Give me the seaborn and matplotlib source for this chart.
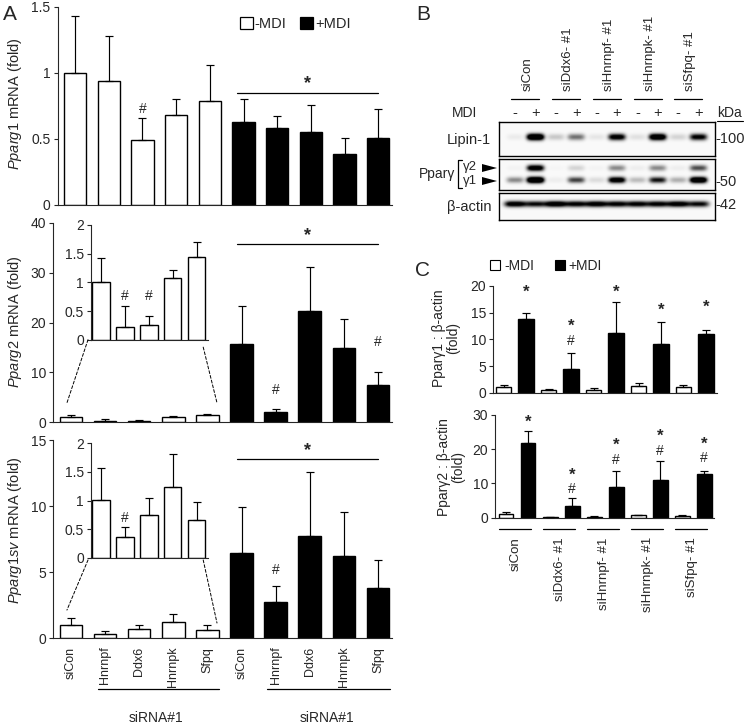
import numpy as np
import pandas as pd
import matplotlib
matplotlib.use("Agg")
import matplotlib.pyplot as plt
import seaborn as sns
from matplotlib.patches import Patch, ConnectionPatch, Polygon
from matplotlib.lines import Line2D
from matplotlib.ticker import FuncFormatter

# ---------------- data ----------------
genes_A = ["siCon", "Hnrnpf", "Ddx6", "Hnrnpk", "Sfpq"]

pparg1_minus = [1.00, 0.94, 0.49, 0.68, 0.79]
pparg1_minus_err = [0.43, 0.34, 0.17, 0.125, 0.27]
pparg1_plus = [0.63, 0.585, 0.555, 0.39, 0.505]
pparg1_plus_err = [0.17, 0.09, 0.205, 0.12, 0.22]

pparg2_minus = [1.00, 0.23, 0.25, 1.08, 1.44]
pparg2_minus_err = [0.42, 0.35, 0.17, 0.13, 0.27]
pparg2_plus = [15.8, 2.1, 22.4, 14.9, 7.4]
pparg2_plus_err = [7.5, 0.6, 8.8, 5.8, 2.7]

pparg1sv_minus = [1.01, 0.36, 0.74, 1.24, 0.66]
pparg1sv_minus_err = [0.56, 0.18, 0.30, 0.58, 0.31]
pparg1sv_plus = [6.43, 2.78, 7.77, 6.23, 3.84]
pparg1sv_plus_err = [3.55, 1.19, 4.81, 3.31, 2.11]

genes_C = ["siCon", "siDdx6- #1", "siHnrnpf- #1", "siHnrnpk- #1", "siSfpq- #1"]
g1_minus = [1.0, 0.5, 0.5, 1.3, 1.0]
g1_minus_err = [0.4, 0.25, 0.4, 0.55, 0.4]
g1_plus = [13.8, 4.44, 11.2, 9.06, 11.05]
g1_plus_err = [1.2, 3.06, 5.8, 4.14, 0.75]
g2_minus = [1.0, 0.2, 0.3, 0.7, 0.5]
g2_minus_err = [0.6, 0.1, 0.1, 0.2, 0.2]
g2_plus = [21.75, 3.4, 8.9, 11.0, 12.8]
g2_plus_err = [3.65, 2.3, 4.75, 5.5, 0.9]

# western blot band intensities (lanes: -,+ per siRNA)
lipin1_band = [0.06, 1.7, 0.2, 0.55, 0.08, 1.2, 0.1, 1.5, 0.15, 1.1]
ppar_g2_band = [0.03, 1.3, 0.02, 0.15, 0.03, 0.45, 0.05, 0.45, 0.05, 0.7]
ppar_g1_band = [0.45, 1.8, 0.05, 0.75, 0.12, 1.3, 0.25, 0.95, 0.3, 1.6]
actin_band = [1.2, 1.0, 1.3, 1.1, 1.2, 1.1, 1.1, 1.1, 1.2, 1.0]
mdi_signs = ["-", "+"] * 5

# ---------------- style ----------------
sns.set_style("ticks")
plt.rcParams["font.family"] = ["Liberation Sans", "DejaVu Sans"]
plt.rcParams["mathtext.fontset"] = "custom"
plt.rcParams["mathtext.it"] = "Liberation Sans:italic"
plt.rcParams["mathtext.rm"] = "Liberation Sans"
plt.rcParams["axes.linewidth"] = 0.8
plt.rcParams["xtick.major.width"] = 0.8
plt.rcParams["ytick.major.width"] = 0.8
plt.rcParams["ytick.major.size"] = 3
plt.rcParams["ytick.major.pad"] = 2

W, H = 745, 723
fig = plt.figure(figsize=(W / 100, H / 100), dpi=100)


def px_axes(left, top, right, bottom):
    return fig.add_axes([left / W, 1 - bottom / H, (right - left) / W, (bottom - top) / H])


def F(x, y):
    return (x / W, 1 - y / H)


pal = {"-MDI": "white", "+MDI": "black"}
fmt = FuncFormatter(lambda v, p: "%g" % v)
FS = 10


def bars(ax, vals, errs, groups, width, cap=3.2):
    keys = [str(i) for i in range(len(vals))]
    df = pd.DataFrame({"key": keys, "val": vals, "mdi": groups})
    sns.barplot(data=df, x="key", y="val", hue="mdi", hue_order=["-MDI", "+MDI"],
                palette=pal, dodge=False, width=width, edgecolor="black",
                linewidth=1.0, errorbar=None, legend=False, order=keys, ax=ax)
    ax.errorbar(np.arange(len(vals)), vals, yerr=[np.zeros(len(vals)), errs], fmt="none",
                ecolor="black", elinewidth=0.85, capsize=cap, capthick=0.85, zorder=3)
    ax.set_xlabel("")
    ax.set_ylabel("")
    sns.despine(ax=ax)
    ax.yaxis.set_major_formatter(fmt)
    ax.tick_params(axis="y", labelsize=FS, direction="out")
    ax.tick_params(axis="x", length=0)
    ax.set_facecolor("none")


def star(ax, x, y, s="*", size=None):
    if s == "*":
        ax.text(x, y, "*", ha="center", va="center", fontsize=size or 13, fontweight="bold")
    else:
        ax.text(x, y, "#", ha="center", va="center", fontsize=size or FS)


def sigline(ax, x0, x1, y, ys):
    ax.plot([x0, x1], [y, y], color="black", lw=0.9, clip_on=False)
    star(ax, (x0 + x1) / 2, ys)


groupsA = ["-MDI"] * 5 + ["+MDI"] * 5

# ---------------- Panel A top ----------------
axA1 = px_axes(57.5, 7, 391.8, 205)
bars(axA1, pparg1_minus + pparg1_plus, pparg1_minus_err + pparg1_plus_err, groupsA, 0.66)
axA1.set_xlim(-0.52, 9.4)
axA1.set_ylim(0, 1.5)
axA1.set_yticks([0, 0.5, 1, 1.5])
axA1.set_xticklabels([])
star(axA1, 2, 0.73, "#")
sigline(axA1, 4.8, 9.0, 0.85, 0.92)
axA1.legend(handles=[Patch(facecolor="white", edgecolor="black", lw=0.9, label="-MDI"),
                     Patch(facecolor="black", edgecolor="black", lw=0.9, label="+MDI")],
            loc="center left", bbox_to_anchor=F(240, 24), bbox_transform=fig.transFigure,
            ncol=2, frameon=False, fontsize=10.5, handlelength=0.9, handleheight=0.9,
            handletextpad=0.12, columnspacing=0.9, borderpad=0, borderaxespad=0)

# ---------------- Panel A middle ----------------
axA2 = px_axes(53.3, 223, 391.6, 422.3)
bars(axA2, pparg2_minus + pparg2_plus, pparg2_minus_err + pparg2_plus_err, groupsA, 0.66)
axA2.set_xlim(-0.52, 9.4)
axA2.set_ylim(0, 40)
axA2.set_yticks([0, 10, 20, 30, 40])
axA2.set_xticklabels([])
star(axA2, 6, 6.5, "#")
star(axA2, 9, 16.2, "#")
sigline(axA2, 4.87, 9.0, 35.8, 37.4)

inA2 = px_axes(91, 225, 208, 339.7)
bars(inA2, pparg2_minus, pparg2_minus_err, ["-MDI"] * 5, 0.72, cap=2.8)
inA2.set_xlim(-0.42, 4.47)
inA2.set_ylim(0, 2)
inA2.set_yticks([0, 0.5, 1, 1.5, 2])
inA2.set_xticklabels([])
star(inA2, 1, 0.76, "#")
star(inA2, 2, 0.76, "#")
for xa, ya, xb, yb in [(-0.545, 0.0, -0.12, 3.9), (4.27, -0.13, 4.28, 3.9)]:
    fig.add_artist(ConnectionPatch(xyA=(xa, ya), coordsA=inA2.transData, xyB=(xb, yb),
                                   coordsB=axA2.transData, linestyle=(0, (3, 2)), lw=0.7,
                                   color="black"))

# ---------------- Panel A bottom ----------------
axA3 = px_axes(53.3, 440.3, 391.6, 638.3)
bars(axA3, pparg1sv_minus + pparg1sv_plus, pparg1sv_minus_err + pparg1sv_plus_err, groupsA, 0.66)
axA3.set_xlim(-0.52, 9.4)
axA3.set_ylim(0, 15)
axA3.set_yticks([0, 5, 10, 15])
axA3.set_xticks(range(10))
axA3.set_xticklabels(genes_A + genes_A, rotation=90, fontsize=9, va="top")
axA3.tick_params(axis="x", pad=6)
star(axA3, 6, 5.2, "#")
sigline(axA3, 4.87, 9.0, 13.55, 14.2)
for x0, x1, xc in [(0.8, 4.35, 2.5), (5.75, 9.35, 7.5)]:
    axA3.plot([x0, x1], [-0.258, -0.258], color="black", lw=0.9, clip_on=False,
              transform=axA3.get_xaxis_transform())
    axA3.text(xc, -0.40, "siRNA#1", ha="center", va="center", fontsize=FS,
              transform=axA3.get_xaxis_transform())

inA3 = px_axes(91, 443.3, 208, 557.7)
bars(inA3, pparg1sv_minus, pparg1sv_minus_err, ["-MDI"] * 5, 0.72, cap=2.8)
inA3.set_xlim(-0.42, 4.47)
inA3.set_ylim(0, 2)
inA3.set_yticks([0, 0.5, 1, 1.5, 2])
inA3.set_xticklabels([])
star(inA3, 1, 0.69, "#")
for xa, ya, xb, yb in [(-0.545, -0.04, -0.12, 2.14), (4.27, -0.04, 4.28, 1.16)]:
    fig.add_artist(ConnectionPatch(xyA=(xa, ya), coordsA=inA3.transData, xyB=(xb, yb),
                                   coordsB=axA3.transData, linestyle=(0, (3, 2)), lw=0.7,
                                   color="black"))

fig.text(*F(15, 104), r"$\mathit{Pparg1}$ mRNA (fold)", rotation=90, ha="center", va="center", fontsize=10.5)
fig.text(*F(15, 322), r"$\mathit{Pparg2}$ mRNA (fold)", rotation=90, ha="center", va="center", fontsize=10.5)
fig.text(*F(15, 530), r"$\mathit{Pparg1sv}$ mRNA (fold)", rotation=90, ha="center", va="center", fontsize=10.5)

# ---------------- Panel B (blot) ----------------
def blot(box, rows, ycs, sy, wx):
    left, top, right, bottom = box
    ax = px_axes(left, top, right, bottom)
    hpx = int(round(bottom - top))
    x0, x1 = -0.78, 9.8
    xs = np.linspace(x0, x1, int(right - left) * 2)
    ys = (np.arange(hpx * 2) + 0.5) / 2
    img = np.full((len(ys), len(xs)), 0.02)
    for intens, yc in zip(rows, ycs):
        for k, a in enumerate(intens):
            img += a * np.exp(-(np.abs(xs - k) / wx) ** 4)[None, :] * np.exp(-((ys - yc) / sy) ** 2)[:, None]
    ax.imshow(np.clip(img, 0, 1), cmap="gray_r", vmin=0, vmax=1, extent=[x0, x1, hpx, 0],
              aspect="auto", interpolation="bilinear")
    ax.set_xticks([])
    ax.set_yticks([])
    for s in ax.spines.values():
        s.set_visible(True)
        s.set_linewidth(1.0)
        s.set_color("black")
    return ax


blot((499, 122, 715, 156), [lipin1_band], [15], 3.2, 0.42)
blot((499, 159, 715, 190), [ppar_g2_band, ppar_g1_band], [9, 21], 3.0, 0.42)
blot((499, 193, 715, 220), [actin_band], [11], 3.0, 0.52)

lanes_x = [515 + 20.4 * k for k in range(10)]
for x, s in zip(lanes_x, mdi_signs):
    fig.text(*F(x, 113), s, ha="center", va="center", fontsize=10.5)
fig.text(*F(465, 113), "MDI", ha="center", va="center", fontsize=FS)
for i, g in enumerate(genes_C):
    xc = (lanes_x[2 * i] + lanes_x[2 * i + 1]) / 2
    fig.text(*F(xc + 2, 91), g, rotation=90, ha="center", va="bottom", fontsize=9.5)
    fig.add_artist(Line2D([F(xc - 14, 0)[0], F(xc + 14, 0)[0]], [F(0, 99)[1]] * 2,
                          color="black", lw=0.9))
fig.text(*F(469, 140), "Lipin-1", ha="center", va="center", fontsize=10.5)
fig.text(*F(469, 207), "β-actin", ha="center", va="center", fontsize=10.5)
fig.text(*F(437, 174), "Pparγ", ha="center", va="center", fontsize=10)
fig.text(*F(470, 167), "γ2", ha="center", va="center", fontsize=9.5)
fig.text(*F(470, 181), "γ1", ha="center", va="center", fontsize=9.5)
bx = [F(462, 0)[0], F(458, 0)[0], F(458, 0)[0], F(462, 0)[0]]
by = [F(0, 160)[1], F(0, 160)[1], F(0, 188)[1], F(0, 188)[1]]
fig.add_artist(Line2D(bx, by, color="black", lw=0.9))
for yy in (168, 181):
    fig.add_artist(Polygon([F(482, yy - 4), F(482, yy + 4), F(497, yy)], closed=True,
                           facecolor="black", edgecolor="none", transform=fig.transFigure))
fig.text(*F(730, 113), "kDa", ha="center", va="center", fontsize=10)
fig.add_artist(Line2D([F(717, 0)[0], F(743, 0)[0]], [F(0, 121)[1]] * 2, color="black", lw=0.8))
for lab, yy in [("-100", 139), ("-50", 182), ("-42", 205)]:
    fig.text(*F(715, yy), lab, ha="left", va="center", fontsize=10.5)

# ---------------- Panel C ----------------
groupsC = ["-MDI", "+MDI"] * 5


def interleave(a, b):
    out = []
    for u, v in zip(a, b):
        out += [u, v]
    return out


axC1 = px_axes(493, 286, 717, 392.7)
bars(axC1, interleave(g1_minus, g1_plus), interleave(g1_minus_err, g1_plus_err), groupsC, 0.68, cap=3.0)
axC1.set_xlim(-0.47, 9.49)
axC1.set_ylim(0, 20)
axC1.set_yticks([0, 5, 10, 15, 20])
axC1.set_xticklabels([])
for x, y, s in [(1, 18.9, "*"), (3, 12.4, "*"), (3, 9.7, "#"), (5, 18.9, "*"), (7, 15.4, "*"), (9, 16.1, "*")]:
    star(axC1, x, y, s, size=12 if s == "*" else 10)

axC2 = px_axes(495, 415, 714, 517.7)
bars(axC2, interleave(g2_minus, g2_plus), interleave(g2_minus_err, g2_plus_err), groupsC, 0.68, cap=3.0)
axC2.set_xlim(-0.5, 9.45)
axC2.set_ylim(0, 30)
axC2.set_yticks([0, 10, 20, 30])
axC2.set_xticklabels([])
for x, y, s in [(1, 27.8, "*"), (3, 12.5, "*"), (3, 8.3, "#"), (5, 21.05, "*"), (5, 16.9, "#"),
                (7, 23.7, "*"), (7, 19.5, "#"), (9, 21.5, "*"), (9, 17.4, "#")]:
    star(axC2, x, y, s, size=12 if s == "*" else 10)
for i, g in enumerate(genes_C):
    axC2.plot([2 * i - 0.3, 2 * i + 1.15], [-0.11, -0.11], color="black", lw=0.9, clip_on=False,
              transform=axC2.get_xaxis_transform())
    axC2.text(2 * i + 0.45, -0.19, g, rotation=90, ha="center", va="top", fontsize=9.5,
              transform=axC2.get_xaxis_transform())

fig.text(*F(446, 338), "Pparγ1 : β-actin\n(fold)", rotation=90, ha="center", va="center",
         fontsize=10, multialignment="center", linespacing=1.0)
fig.text(*F(451, 467), "Pparγ2 : β-actin\n(fold)", rotation=90, ha="center", va="center",
         fontsize=10, multialignment="center", linespacing=1.0)
axC1.legend(handles=[Patch(facecolor="white", edgecolor="black", lw=0.8, label="-MDI"),
                     Patch(facecolor="black", edgecolor="black", lw=0.8, label="+MDI")],
            loc="center left", bbox_to_anchor=F(490, 266), bbox_transform=fig.transFigure,
            ncol=2, frameon=False, fontsize=10, handlelength=0.75, handleheight=0.75,
            handletextpad=0.25, columnspacing=1.5, borderpad=0, borderaxespad=0)

# panel letters
fig.text(*F(10, 14), "A", ha="center", va="center", fontsize=15)
fig.text(*F(423, 15), "B", ha="center", va="center", fontsize=15)
fig.text(*F(423, 270), "C", ha="center", va="center", fontsize=15)

fig.savefig("out.png", dpi=100)
